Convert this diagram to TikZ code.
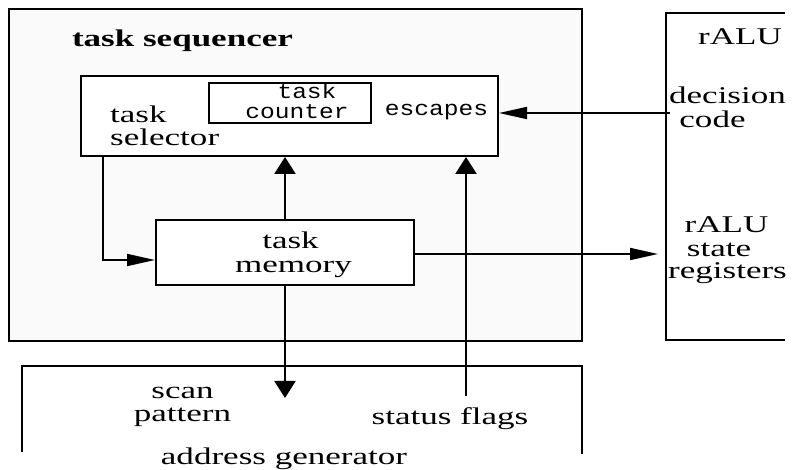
\documentclass[tikz,border=0pt]{standalone}
\usepackage{fontspec}
\usepackage{graphicx}
\setmainfont{Liberation Serif}
\setmonofont{Liberation Mono}
\usetikzlibrary{arrows.meta}

% wide lettering used throughout the block diagram
\newcommand{\widetext}[1]{\scalebox{1.46}[1]{\fontsize{24}{28}\selectfont #1}}
\newcommand{\widemono}[1]{\scalebox{1.17}[1]{\fontsize{21}{25}\selectfont\ttfamily #1}}

\tikzset{
  panel/.style={draw=black, line width=2pt, rectangle, inner sep=0pt},
  label/.style={inner sep=0pt, anchor=base},
  leftlabel/.style={inner sep=0pt, anchor=base west},
  harrow/.style={-{Triangle[length=28pt,width=12pt]}, line width=1.8pt},
  varrow/.style={-{Triangle[length=17pt,width=21pt]}, line width=2.4pt},
  plain/.style={line width=2pt}
}

\begin{document}
\begin{tikzpicture}[x=1pt,y=-1pt]
  \useasboundingbox (0,0) rectangle (796,470);

  % task sequencer frame with its inner blocks
  \node[panel, fill={rgb,255:red,250;green,250;blue,250}, minimum width=573.5pt, minimum height=332.5pt] (seq) at (295.25,175.25) {};
  \node[panel, fill=white, minimum width=417pt, minimum height=80pt] (sel) at (289.5,116) {};
  \node[panel, fill=white, minimum width=162pt, minimum height=40pt] (cnt) at (290,103) {};
  \node[panel, fill=white, minimum width=258pt, minimum height=65pt] (mem) at (285,252.5) {};

  % rALU and address generator, both open on one side
  \draw[plain] (785,13) -- (666,13) -- (666,340) -- (785,340);
  \draw[plain] (22,452) -- (22,366) -- (582,366) -- (582,454);

  % free ends of connectors
  \coordinate (dcstart) at (670,113);
  \coordinate (srtip) at (658,254);
  \coordinate (scantip) at (285,398);
  \coordinate (flagfoot) at (466,396);

  % connectors
  \draw[harrow] ([xshift=23pt]sel.south west) |- ([yshift=-7.5pt]mem.west);
  \draw[varrow] (mem.north) -- (mem.north |- sel.south);
  \draw[varrow] (mem.south) -- (scantip);
  \draw[varrow] (flagfoot) -- (flagfoot |- sel.south);
  \draw[harrow] (mem.east |- srtip) -- (srtip);
  \draw[harrow] (dcstart) -- (dcstart -| sel.east);

  % labels
  \node[label] (title) at (182.5,47) {\widetext{\bfseries task sequencer}};
  \node[leftlabel] (sel1) at (110,122.7) {\widetext{task}};
  \node[leftlabel] (sel2) at (110,146) {\widetext{selector}};
  \node[label] (cnt1) at (307,99) {\widemono{task}};
  \node[label] (cnt2) at (297,119) {\widemono{counter}};
  \node[label] (esc) at (436.5,115.5) {\widemono{escapes}};
  \node[label] (mem1) at (290.5,248.3) {\widetext{task}};
  \node[label] (mem2) at (293.5,272.7) {\widetext{memory}};
  \node[label] (ra1) at (740,44.5) {\widetext{rALU}};
  \node[label] (ra2) at (727.5,104) {\widetext{decision}};
  \node[label] (ra3) at (712.5,128) {\widetext{code}};
  \node[label] (rs1) at (726.5,233) {\widetext{rALU}};
  \node[label] (rs2) at (719,256.5) {\widetext{state}};
  \node[label] (rs3) at (727.5,279) {\widetext{registers}};
  \node[label] (scan1) at (182.5,398.3) {\widetext{scan}};
  \node[label] (scan2) at (182.5,421.7) {\widetext{pattern}};
  \node[label] (flags) at (450,425) {\widetext{status flags}};
  \node[label] (addr) at (284,464.5) {\widetext{address generator}};
\end{tikzpicture}
\end{document}
